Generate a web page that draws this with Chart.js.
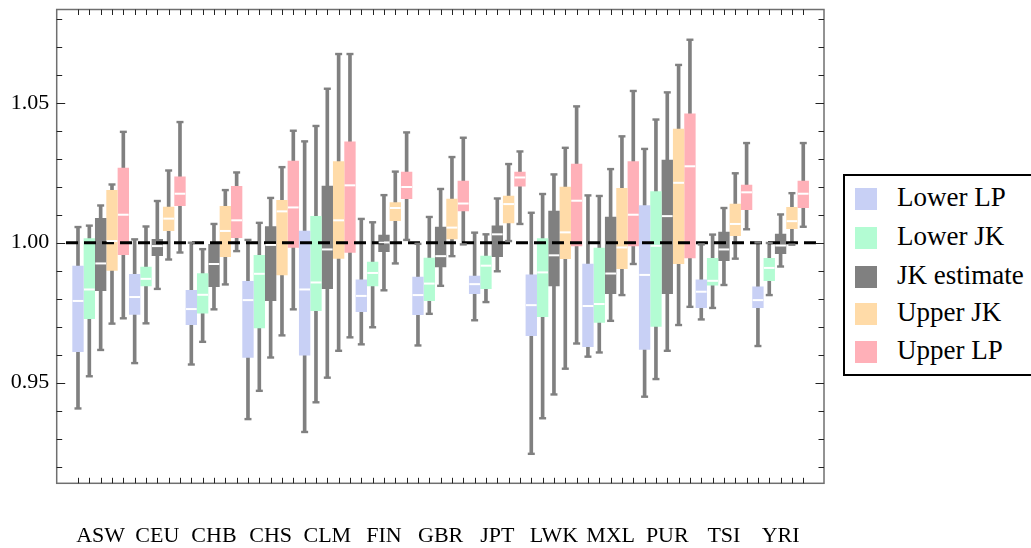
<!DOCTYPE html>
<html>
<head>
<meta charset="utf-8">
<script src="https://cdn.jsdelivr.net/npm/chart.js@4.4.1/dist/chart.umd.min.js"></script>
<style>
  html, body { margin: 0; padding: 0; background: #fff; }
  #wrap { position: relative; width: 1031px; height: 548px; overflow: hidden; }
  #c { position: absolute; left: 0; top: 0; }
  #legend { position: absolute; left: 843px; top: 174px; width: 200px; height: 198px;
            border: 2px solid #000; background: #fff; box-sizing: content-box; }
  .item { position: absolute; left: 0; height: 22px; }
  .sw { position: absolute; left: 10px; top: 0; width: 22px; height: 22px; }
  .lb { position: absolute; left: 52px; top: -8px;
        font-family: "Liberation Serif", "Times New Roman", Times, "DejaVu Serif", serif;
        font-size: 27px; line-height: 34px; white-space: nowrap; color: #000; }
</style>
</head>
<body>
<div id="wrap">
  <canvas id="c" width="1031" height="548"></canvas>
  <div id="legend"></div>
</div>
<script>
// ---- data (min, Q1, median, Q3, max) per population ----
const populations = ['ASW','CEU','CHB','CHS','CLM','FIN','GBR','JPT','LWK','MXL','PUR','TSI','YRI'];
const seriesNames = ['Lower LP','Lower JK','JK estimate','Upper JK','Upper LP'];
const seriesColors = ['#c8d0f5','#b3fcd3','#808080','#ffdba8','#ffb0b8'];

const lowerLP = [
  [0.9408, 0.9611, 0.9792, 0.9917, 1.0056],
  [0.9570, 0.9744, 0.9806, 0.9887, 1.0012],
  [0.9565, 0.9707, 0.9763, 0.9830, 1.0000],
  [0.9370, 0.9590, 0.9795, 0.9862, 1.0010],
  [0.9324, 0.9598, 0.9833, 1.0042, 1.0362],
  [0.9637, 0.9754, 0.9810, 0.9867, 1.0085],
  [0.9633, 0.9743, 0.9813, 0.9877, 0.9996],
  [0.9723, 0.9818, 0.9852, 0.9881, 1.0036],
  [0.9246, 0.9668, 0.9777, 0.9885, 1.0107],
  [0.9593, 0.9629, 0.9774, 0.9924, 1.0169],
  [0.9450, 0.9619, 0.9885, 1.0133, 1.0335],
  [0.9726, 0.9768, 0.9825, 0.9867, 0.9994],
  [0.9631, 0.9768, 0.9795, 0.9842, 1.0001]
];
const lowerJK = [
  [0.9523, 0.9729, 0.9833, 1.0015, 1.0061],
  [0.9712, 0.9846, 0.9871, 0.9913, 1.0058],
  [0.9646, 0.9748, 0.9814, 0.9890, 0.9977],
  [0.9471, 0.9696, 0.9889, 0.9955, 1.0071],
  [0.9430, 0.9757, 0.9858, 1.0094, 1.0417],
  [0.9698, 0.9846, 0.9892, 0.9931, 1.0073],
  [0.9746, 0.9793, 0.9854, 0.9945, 1.0092],
  [0.9788, 0.9836, 0.9918, 0.9952, 1.0030],
  [0.9373, 0.9736, 0.9894, 1.0015, 1.0174],
  [0.9608, 0.9715, 0.9781, 0.9981, 1.0167],
  [0.9513, 0.9701, 0.9989, 1.0183, 1.0440],
  [0.9767, 0.9848, 0.9864, 0.9944, 1.0029],
  [0.9813, 0.9864, 0.9910, 0.9944, 0.9999]
];
const jkEstimate = [
  [0.9617, 0.9829, 0.9926, 1.0087, 1.0133],
  [0.9835, 0.9954, 0.9988, 1.0012, 1.0149],
  [0.9762, 0.9843, 0.9924, 0.9994, 1.0067],
  [0.9590, 0.9793, 0.9992, 1.0058, 1.0160],
  [0.9518, 0.9836, 0.9976, 1.0202, 1.0550],
  [0.9830, 0.9968, 1.0001, 1.0027, 1.0170],
  [0.9846, 0.9914, 0.9952, 1.0056, 1.0192],
  [0.9898, 0.9950, 1.0030, 1.0060, 1.0158],
  [0.9458, 0.9846, 0.9955, 1.0113, 1.0244],
  [0.9721, 0.9818, 0.9890, 1.0092, 1.0263],
  [0.9614, 0.9818, 1.0095, 1.0295, 1.0537],
  [0.9849, 0.9936, 0.9976, 1.0038, 1.0124],
  [0.9915, 0.9961, 0.9990, 1.0031, 1.0101]
];
const upperJK = [
  [0.9711, 0.9901, 1.0006, 1.0187, 1.0208],
  [0.9940, 1.0043, 1.0086, 1.0127, 1.0258],
  [0.9851, 0.9950, 1.0042, 1.0130, 1.0188],
  [0.9669, 0.9885, 1.0112, 1.0151, 1.0270],
  [0.9614, 0.9944, 1.0080, 1.0290, 1.0674],
  [0.9926, 1.0079, 1.0124, 1.0143, 1.0254],
  [0.9952, 1.0014, 1.0054, 1.0156, 1.0306],
  [1.0006, 1.0071, 1.0138, 1.0167, 1.0281],
  [0.9550, 0.9943, 1.0037, 1.0199, 1.0339],
  [0.9813, 0.9907, 0.9983, 1.0194, 1.0380],
  [0.9706, 0.9925, 1.0214, 1.0406, 1.0635],
  [0.9943, 1.0025, 1.0067, 1.0138, 1.0248],
  [0.9993, 1.0050, 1.0077, 1.0126, 1.0177]
];
const upperLP = [
  [0.9730, 0.9957, 1.0100, 1.0267, 1.0396],
  [0.9965, 1.0132, 1.0175, 1.0235, 1.0431],
  [0.9970, 1.0018, 1.0080, 1.0201, 1.0251],
  [0.9762, 0.9983, 1.0126, 1.0292, 1.0400],
  [0.9662, 0.9965, 1.0205, 1.0360, 1.0674],
  [1.0010, 1.0157, 1.0199, 1.0252, 1.0394],
  [0.9994, 1.0114, 1.0140, 1.0220, 1.0375],
  [1.0067, 1.0202, 1.0233, 1.0252, 1.0326],
  [0.9640, 0.9989, 1.0150, 1.0281, 1.0487],
  [0.9924, 0.9989, 1.0100, 1.0290, 1.0542],
  [0.9771, 0.9946, 1.0273, 1.0460, 1.0725],
  [1.0048, 1.0118, 1.0180, 1.0206, 1.0356],
  [1.0057, 1.0125, 1.0175, 1.0220, 1.0356]
];
const referenceValue = 1.0;
const yMajorTicks = [0.95, 1.00, 1.05];
const yMinorTicks = [0.92,0.93,0.94,0.95,0.96,0.97,0.98,0.99,1.00,1.01,1.02,1.03,1.04,1.05,1.06,1.07,1.08];

const SERIF = '"Liberation Serif", "Times New Roman", Times, "DejaVu Serif", serif';

// ---- build datasets ----
const allSeries = [lowerLP, lowerJK, jkEstimate, upperJK, upperLP];
const nSeries = allSeries.length;
const posOf = (g, s) => g * nSeries + s + 1;

const datasets = [];
const boxStats = [];
allSeries.forEach((ser, s) => {
  datasets.push({
    type: 'bar', label: seriesNames[s],
    data: ser.map((d, g) => ({ x: posOf(g, s), y: [d[1], d[3]] })),
    backgroundColor: seriesColors[s], borderWidth: 0,
    barThickness: 10.7, grouped: false, order: 2
  });
  ser.forEach((d, g) => boxStats.push({ x: posOf(g, s), st: d }));
});
allSeries.forEach((ser, s) => {
  datasets.push({
    type: 'bar', label: 'whisker ' + seriesNames[s],
    data: ser.map((d, g) => ({ x: posOf(g, s), y: [d[0], d[4]] })),
    backgroundColor: '#808080', borderWidth: 0,
    barThickness: 3, grouped: false, order: 5
  });
});
datasets.push({
  type: 'line', label: 'ref',
  data: [{ x: -0.06, y: referenceValue }, { x: 66.45, y: referenceValue }],
  borderColor: '#000', borderWidth: 3, borderDash: [12, 6],
  pointRadius: 0, order: 0
});

const boxPlugin = {
  id: 'boxExtras',
  afterDatasetsDraw(chart) {
    const ctx = chart.ctx, xs = chart.scales.x, ys = chart.scales.y;
    ctx.save();
    boxStats.forEach(b => {
      const cx = xs.getPixelForValue(b.x);
      ctx.fillStyle = '#808080';
      [b.st[0], b.st[4]].forEach(v => {
        const py = ys.getPixelForValue(v);
        ctx.fillRect(cx - 3.5, py - 1.2, 7, 2.4);
      });
      const my = ys.getPixelForValue(b.st[2]);
      ctx.fillStyle = '#ffffff';
      ctx.fillRect(cx - 5.35, my - 1, 10.7, 2);
    });
    ctx.restore();
  },
  afterDraw(chart) {
    const ctx = chart.ctx, a = chart.chartArea, xs = chart.scales.x, ys = chart.scales.y;
    ctx.save();
    ctx.strokeStyle = '#6f6f6f';
    ctx.lineWidth = 1.5;
    ctx.strokeRect(a.left, a.top, a.right - a.left, a.bottom - a.top);
    ctx.strokeStyle = '#222';
    ctx.lineWidth = 1;
    ctx.beginPath();
    boxStats.forEach(b => {
      const px = Math.round(xs.getPixelForValue(b.x)) + 0.5;
      ctx.moveTo(px, a.bottom); ctx.lineTo(px, a.bottom - 5.5);
      ctx.moveTo(px, a.top); ctx.lineTo(px, a.top + 5.5);
    });
    yMinorTicks.forEach(v => {
      const major = yMajorTicks.some(m => Math.abs(m - v) < 1e-6);
      const len = major ? 8.5 : 5.5;
      const py = Math.round(ys.getPixelForValue(v)) + 0.5;
      ctx.moveTo(a.left, py); ctx.lineTo(a.left + len, py);
      ctx.moveTo(a.right, py); ctx.lineTo(a.right - len, py);
    });
    ctx.stroke();
    ctx.restore();
  }
};

new Chart(document.getElementById('c'), {
  type: 'bar',
  data: { datasets },
  options: {
    responsive: false,
    animation: false,
    events: [],
    layout: { padding: { left: 0, right: 207, top: 9.5, bottom: 0 } },
    plugins: { legend: { display: false }, tooltip: { enabled: false } },
    scales: {
      x: {
        type: 'linear', min: -0.879, max: 66.83, offset: false,
        grid: { display: false, drawTicks: false },
        border: { display: false },
        afterBuildTicks: sc => { sc.ticks = populations.map((p, g) => ({ value: posOf(g, 2) })); },
        afterFit: sc => { sc.height = 64.7; sc.paddingLeft = 0; sc.paddingRight = 0; },
        ticks: {
          autoSkip: false, maxRotation: 0, padding: 40,
          color: '#000', font: { family: SERIF, size: 22 },
          callback: v => populations[Math.round((v - 3) / nSeries)]
        }
      },
      y: {
        type: 'linear', min: 0.91407, max: 1.0833,
        grid: { display: false, drawTicks: false },
        border: { display: false },
        afterBuildTicks: sc => { sc.ticks = yMajorTicks.map(v => ({ value: v })); },
        afterFit: sc => { sc.width = 56.7; sc.paddingTop = 0; sc.paddingBottom = 0; },
        ticks: {
          autoSkip: false, padding: 7.5,
          color: '#000', font: { family: SERIF, size: 22 },
          callback: v => v.toFixed(2)
        }
      }
    }
  },
  plugins: [boxPlugin]
});

const leg = document.getElementById('legend');
const itemTops = [12, 50.7, 90, 127, 165];
seriesNames.forEach((n, i) => {
  const it = document.createElement('div');
  it.className = 'item';
  it.style.top = itemTops[i] + 'px';
  it.innerHTML = '<div class="sw" style="background:' + seriesColors[i] + '"></div><div class="lb">' + n + '</div>';
  leg.appendChild(it);
});
</script>
</body>
</html>
